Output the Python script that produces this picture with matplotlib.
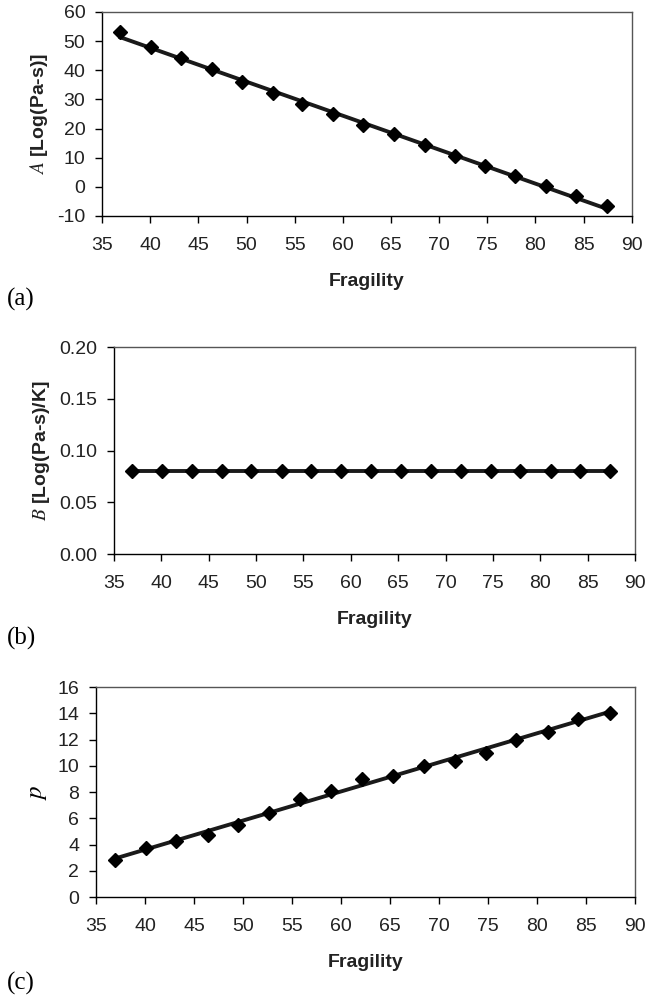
import numpy as np
import matplotlib.pyplot as plt

plt.rcParams['font.family'] = ['Liberation Sans', 'DejaVu Sans']
plt.rcParams['mathtext.fontset'] = 'stix'

# Fragility values (x) shared by all three panels
fragility = [36.9, 40.1, 43.2, 46.4, 49.5, 52.7, 55.8, 59.0, 62.1,
             65.3, 68.5, 71.6, 74.8, 77.9, 81.1, 84.2, 87.4]

# Panel (a): A [Log(Pa-s)]
A_vals = [53.2, 48.0, 44.2, 40.3, 36.0, 32.2, 28.3, 25.0, 21.1,
          18.0, 14.3, 10.6, 7.1, 3.6, 0.2, -3.2, -6.7]

# Panel (b): B [Log(Pa-s)/K]
B_vals = [0.08] * 17

# Panel (c): p
p_vals = [2.8, 3.7, 4.3, 4.7, 5.5, 6.4, 7.5, 8.1, 9.0,
          9.2, 10.0, 10.4, 11.0, 12.0, 12.6, 13.6, 14.0]

panels = [
    dict(y=A_vals, ylim=(-10, 60), yticks=np.arange(-10, 61, 10), fmt='{:.0f}',
         ylabel=r'$\mathit{A}$ [Log(Pa-s)]', tag='(a)', tagx=-0.18,
         rect=[0.158, 0.7834, 0.820, 0.2046]),
    dict(y=B_vals, ylim=(0, 0.2), yticks=np.arange(0, 0.201, 0.05), fmt='{:.2f}',
         ylabel=r'$\mathit{B}$ [Log(Pa-s)/K]', tag='(b)', tagx=-0.205,
         rect=[0.1765, 0.4443, 0.8065, 0.2076]),
    dict(y=p_vals, ylim=(0, 16), yticks=np.arange(0, 17, 2), fmt='{:.0f}',
         ylabel=r'$\mathit{p}$', tag='(c)', tagx=-0.165,
         rect=[0.1486, 0.1003, 0.8344, 0.2106]),
]

fig = plt.figure(figsize=(6.46, 9.97), dpi=100)

for pn in panels:
    ax = fig.add_axes(pn['rect'])
    x = np.array(fragility)
    y = np.array(pn['y'])
    # linear trendline through the data
    k, b = np.polyfit(x, y, 1)
    xl = np.array([x[0], x[-1]])
    ax.plot(xl, k * xl + b, color='#1a1a1a', linewidth=2.8, zorder=2)
    ax.plot(x, y, linestyle='none', marker='D', markersize=7.5,
            color='black', zorder=3)

    ax.set_xlim(35, 90)
    ax.set_xticks(np.arange(35, 91, 5))
    ax.set_ylim(*pn['ylim'])
    ax.set_yticks(pn['yticks'])
    ax.set_yticklabels([pn['fmt'].format(v) for v in pn['yticks']])
    ax.tick_params(direction='out', length=5, width=1, labelsize=14,
                   colors='black', labelcolor='#222222')
    ax.tick_params(axis='x', pad=10)
    ax.tick_params(axis='y', pad=7)
    for s in ['left', 'bottom']:
        ax.spines[s].set_color('black')
        ax.spines[s].set_linewidth(1.0)
    for s in ['top', 'right']:
        ax.spines[s].set_color('#555555')
        ax.spines[s].set_linewidth(1.0)

    ax.set_xlabel('Fragility', fontsize=14, fontweight='bold', labelpad=14,
                  color='#222222')
    if pn['tag'] == '(c)':
        ax.set_ylabel(pn['ylabel'], fontsize=18, labelpad=6)
    else:
        ax.set_ylabel(pn['ylabel'], fontsize=14, fontweight='bold', labelpad=5,
                      color='#222222')
    ax.text(pn['tagx'], -0.41, pn['tag'],
            transform=ax.transAxes, family='Liberation Serif', fontsize=18,
            ha='left', va='center')

plt.savefig('out.png', dpi=100)
